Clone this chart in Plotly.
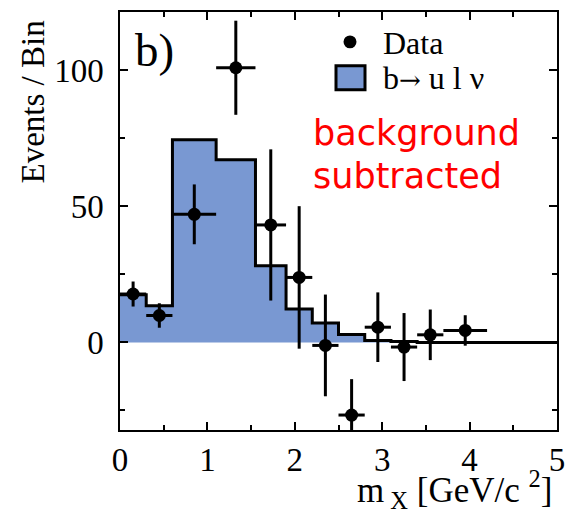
import plotly.graph_objects as go

# Bin edges (GeV/c^2) shared by data and the signal histogram
bin_edges = [0.0, 0.3, 0.6, 1.1, 1.55, 1.9, 2.2, 2.5, 2.8, 3.1, 3.4, 3.7, 4.2, 5.0]

# b -> u l nu expectation per bin
signal_counts = [17.5, 13.5, 74.5, 67.2, 28.2, 12.3, 7.1, 2.9, 0.7, 0.3, 0.0, 0.0, 0.0]

# Background-subtracted data (12 bins up to 4.2 GeV/c^2)
data_counts = [17.8, 9.9, 47.1, 101.0, 43.2, 23.9, -1.1, -26.7, 5.6, -1.7, 2.8, 4.4]
data_errors = [4.6, 4.5, 11.0, 17.3, 27.8, 26.2, 18.7, 13.2, 12.8, 12.5, 9.3, 5.6]

data_x = [(bin_edges[i] + bin_edges[i + 1]) / 2 for i in range(len(data_counts))]
data_halfwidth = [(bin_edges[i + 1] - bin_edges[i]) / 2 for i in range(len(data_counts))]

SERIF = "Liberation Serif, Times New Roman, serif"
FILL = "rgb(121,152,210)"

fig = go.Figure()

# Signal histogram as a filled step line
fig.add_trace(go.Scatter(
    x=bin_edges,
    y=signal_counts + [signal_counts[-1]],
    mode="lines",
    line=dict(shape="hv", color="black", width=3),
    fill="tozeroy",
    fillcolor=FILL,
    hoverinfo="skip",
    showlegend=False,
))

# Data points with error bars
fig.add_trace(go.Scatter(
    x=data_x,
    y=data_counts,
    mode="markers",
    marker=dict(color="black", size=13),
    error_y=dict(type="data", array=data_errors, color="black", thickness=3, width=0),
    error_x=dict(type="data", array=data_halfwidth, color="black", thickness=3, width=0),
    showlegend=False,
))

axis_common = dict(
    showline=True, linecolor="black", linewidth=1.5, mirror="allticks",
    ticks="inside", ticklen=8, tickwidth=1.5, tickcolor="black",
    showgrid=False, zeroline=False,
    tickfont=dict(family=SERIF, size=33, color="black"),
)

fig.update_xaxes(
    range=[0, 5], tickvals=[0, 1, 2, 3, 4, 5],
    minor=dict(dtick=0.5, ticks="inside", ticklen=5, tickwidth=1.5, tickcolor="black"),
    **axis_common,
)
fig.update_yaxes(
    range=[-32.2, 121.5], tickvals=[0, 50, 100],
    minor=dict(dtick=25, ticks="inside", ticklen=5, tickwidth=1.5, tickcolor="black"),
    ticklabelstandoff=8,
    **axis_common,
)

# Plot-area pixel helpers for placing legend items and labels
PLOT_L, PLOT_T, PLOT_W, PLOT_H = 120, 10, 437.0, 420.0


def px(xp, yp):
    return (xp - PLOT_L) / PLOT_W, 1 - (yp - PLOT_T) / PLOT_H


annotations = []

annotations.append(dict(text="b)", x=0.03, y=0.975, xref="paper", yref="paper",
                        xanchor="left", yanchor="top", showarrow=False,
                        font=dict(family=SERIF, size=47, color="black")))

for txt, ypix in [("background", 132), ("subtracted", 175)]:
    tx, ty = px(311, ypix)
    annotations.append(dict(text=txt, x=tx, y=ty, xref="paper", yref="paper",
                            xanchor="left", yanchor="middle", showarrow=False,
                            font=dict(family="DejaVu Sans", size=35, color="red")))

# Legend labels
lx, ly = px(381, 41)
annotations.append(dict(text="Data", x=lx, y=ly, xref="paper", yref="paper", xanchor="left",
                        yanchor="middle", showarrow=False,
                        font=dict(family=SERIF, size=32, color="black")))
lx, ly = px(381, 76)
annotations.append(dict(
    text="b<span style=\"font-family:DejaVu Serif;font-size:26px\">\u2192</span> u l \u03bd",
    x=lx, y=ly, xref="paper", yref="paper", xanchor="left", yanchor="middle",
    showarrow=False, font=dict(family=SERIF, size=32, color="black")))

# Axis titles
annotations.append(dict(text="Events / Bin", x=-0.2, y=0.785, xref="paper", yref="paper",
                        textangle=-90, xanchor="center", yanchor="middle", showarrow=False,
                        font=dict(family=SERIF, size=33, color="black")))
annotations.append(dict(text="m<sub> X</sub> [GeV/c <sup>2</sup>]", x=0.992, y=-0.08,
                        xref="paper", yref="paper", xanchor="right", yanchor="top",
                        showarrow=False, font=dict(family=SERIF, size=35, color="black")))

mx, my = px(350, 40)
bx0, by0 = px(336, 64)
bx1, by1 = px(365, 88)
shapes = [
    dict(type="circle", xref="paper", yref="paper",
         x0=mx - 6.5 / PLOT_W, x1=mx + 6.5 / PLOT_W, y0=my - 6.5 / PLOT_H, y1=my + 6.5 / PLOT_H,
         fillcolor="black", line=dict(color="black", width=0)),
    dict(type="rect", xref="paper", yref="paper", x0=bx0, x1=bx1, y0=by1, y1=by0,
         fillcolor=FILL, line=dict(color="black", width=3)),
]

fig.update_layout(
    width=575, height=512,
    margin=dict(l=120, r=18, t=10, b=82),
    paper_bgcolor="white", plot_bgcolor="white",
    annotations=annotations, shapes=shapes,
    showlegend=False,
)

fig.write_html("out.html")
